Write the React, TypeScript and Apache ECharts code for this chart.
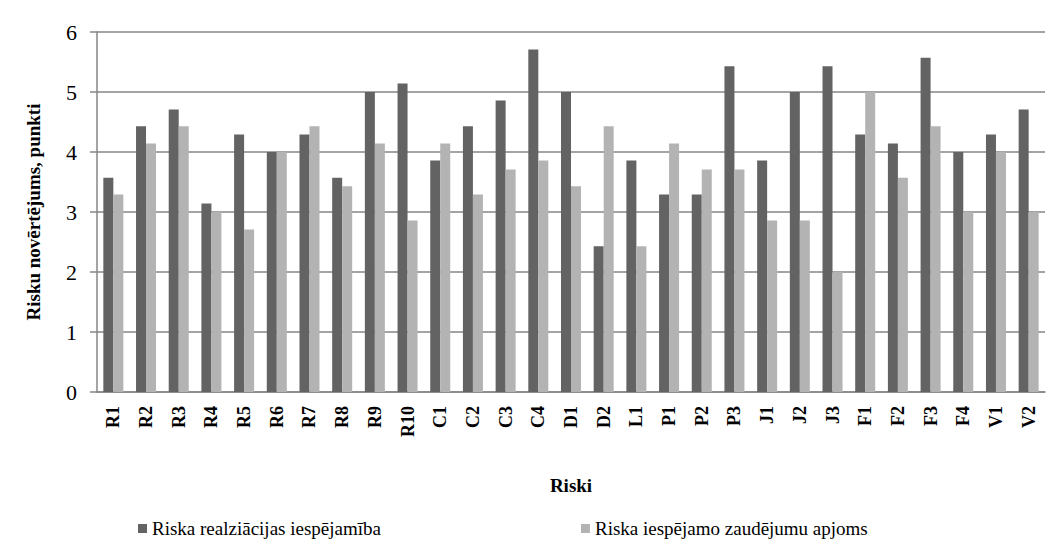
import React, { useEffect, useRef } from "react";
import * as echarts from "echarts";

const categories = ["R1","R2","R3","R4","R5","R6","R7","R8","R9","R10","C1","C2","C3","C4","D1","D2","L1","P1","P2","P3","J1","J2","J3","F1","F2","F3","F4","V1","V2"];
const probability = [3.57,4.43,4.71,3.14,4.29,4.0,4.29,3.57,5.0,5.14,3.86,4.43,4.86,5.71,5.0,2.43,3.86,3.29,3.29,5.43,3.86,5.0,5.43,4.29,4.14,5.57,4.0,4.29,4.71];
const lossVolume = [3.29,4.14,4.43,3.0,2.71,4.0,4.43,3.43,4.14,2.86,4.14,3.29,3.71,3.86,3.43,4.43,2.43,4.14,3.71,3.71,2.86,2.86,2.0,5.0,3.57,4.43,3.0,4.0,3.0];
const seriesNames = ["Riska realziācijas iespējamība", "Riska iespējamo zaudējumu apjoms"];
const yTicks = { min: 0, max: 6, interval: 1 };

const FONT = "Liberation Serif";

export default function App() {
  const ref = useRef<HTMLDivElement>(null);
  useEffect(() => {
    if (!ref.current) return;
    const chart = echarts.init(ref.current, undefined, { renderer: "svg" });
    chart.setOption({
      animation: false,
      backgroundColor: "#ffffff",
      textStyle: { fontFamily: FONT },
      grid: { left: 97, right: 8, top: 32, bottom: 158, containLabel: false },
      legend: {
        left: 133,
        top: 514,
        itemWidth: 9,
        itemHeight: 9,
        itemGap: 200,
        icon: "rect",
        textStyle: { fontFamily: FONT, fontSize: 19, color: "#000" },
        data: seriesNames,
      },
      xAxis: {
        type: "category",
        data: categories,
        name: "Riski",
        nameLocation: "middle",
        nameGap: 84,
        nameTextStyle: { fontFamily: FONT, fontSize: 19, fontWeight: "bold", color: "#000" },
        axisLine: { show: true, lineStyle: { color: "#868686", width: 1.5 } },
        axisTick: { show: false },
        axisLabel: {
          show: true,
          rotate: 90,
          interval: 0,
          margin: 14,
          fontFamily: FONT,
          fontSize: 18,
          fontWeight: "bold",
          color: "#000",
        },
      },
      yAxis: {
        type: "value",
        min: yTicks.min,
        max: yTicks.max,
        interval: yTicks.interval,
        name: "Risku novērtējums, punkti",
        nameLocation: "middle",
        nameGap: 54,
        nameRotate: 90,
        nameTextStyle: { fontFamily: FONT, fontSize: 19, fontWeight: "bold", color: "#000" },
        axisLine: { show: true, lineStyle: { color: "#868686", width: 1.5 } },
        axisTick: { show: true, length: 7, lineStyle: { color: "#868686", width: 1.5 } },
        axisLabel: { margin: 20, fontFamily: FONT, fontSize: 22, color: "#000" },
        splitLine: { show: true, lineStyle: { color: "#868686", width: 1.5 } },
      },
      series: [
        { name: seriesNames[0], type: "bar", data: probability, barWidth: 10, barGap: "0%", itemStyle: { color: "#636363" } },
        { name: seriesNames[1], type: "bar", data: lossVolume, barWidth: 10, barGap: "0%", itemStyle: { color: "#b3b3b3" } },
      ],
    });
    return () => chart.dispose();
  }, []);
  return <div ref={ref} style={{ width: 1053, height: 550, position: "absolute", left: 0, top: 0 }} />;
}
